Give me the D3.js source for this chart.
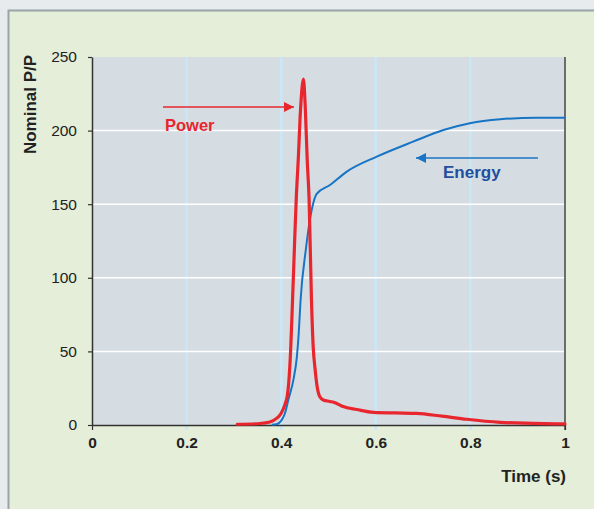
<!DOCTYPE html>
<html>
<head>
<meta charset="utf-8">
<script src="https://cdn.jsdelivr.net/npm/d3@7"></script>
<style>
  html, body { margin: 0; padding: 0; background: #e7ebee; }
  svg { display: block; font-family: "Liberation Sans", Arial, sans-serif; }
</style>
</head>
<body>
<script>
// values
var powerTime  = [0.307, 0.355, 0.376, 0.39, 0.4, 0.408, 0.413, 0.416, 0.42, 0.424, 0.429, 0.432, 0.436, 0.441, 0.447,
                  0.451, 0.455, 0.459, 0.464, 0.468, 0.471, 0.476, 0.482, 0.489, 0.503, 0.515, 0.531, 0.56, 0.595,
                  0.64, 0.686, 0.74, 0.792, 0.863, 0.933, 1.0];
var powerValue = [0.5, 1, 2, 4.5, 8, 14, 20, 29, 51, 85, 130, 155, 180, 215, 235,
                  215, 180, 153, 85, 51, 40, 26, 19, 17, 16, 15, 12.5, 10.5, 8.6,
                  8.2, 7.9, 6, 3.9, 1.8, 1.1, 0.7];

var energyTime  = [0.38, 0.39, 0.401, 0.408, 0.415, 0.426, 0.433, 0.437, 0.441, 0.452, 0.461, 0.468, 0.475, 0.503,
                   0.538, 0.602, 0.679, 0.743, 0.799, 0.863, 0.94, 1.0];
var energyValue = [0.2, 0.5, 3.4, 8, 17, 31, 46, 62, 85, 119, 140, 151, 157, 163,
                   172, 182.3, 192.5, 200.4, 205, 207.7, 208.8, 208.8];

var xTicks = [0, 0.2, 0.4, 0.6, 0.8, 1];
var xTickLabels = ["0", "0.2", "0.4", "0.6", "0.8", "1"];
var yTicks = [0, 50, 100, 150, 200, 250];

var power = powerTime.map(function(t, i) { return {t: t, v: powerValue[i]}; });
var energy = energyTime.map(function(t, i) { return {t: t, v: energyValue[i]}; });

var svg = d3.select("body").append("svg").attr("width", 594).attr("height", 509);

// outer panel
svg.append("rect")
    .attr("x", 8.5).attr("y", 10.5).attr("width", 600).attr("height", 520)
    .attr("fill", "#e4eed8").attr("stroke", "#99a4a8").attr("stroke-width", 2);

var x = d3.scaleLinear().domain([0, 1]).range([92, 565]);
var y = d3.scaleLinear().domain([0, 250]).range([425, 57]);

// plot background
svg.append("rect")
    .attr("x", x(0)).attr("y", y(250))
    .attr("width", x(1) - x(0)).attr("height", y(0) - y(250))
    .attr("fill", "#d5dde3");

// vertical grid (light blue)
svg.append("g").selectAll("line")
    .data(xTicks.filter(function(d) { return d > 0 && d < 1; }))
    .enter().append("line")
    .attr("x1", function(d) { return x(d); }).attr("x2", function(d) { return x(d); })
    .attr("y1", y(250)).attr("y2", y(0) + 5)
    .attr("stroke", "#c8e8fa").attr("stroke-width", 2.5);

// horizontal grid (white)
svg.append("g").selectAll("line")
    .data(yTicks.filter(function(d) { return d > 0 && d < 250; }))
    .enter().append("line")
    .attr("x1", x(0)).attr("x2", x(1))
    .attr("y1", function(d) { return y(d); }).attr("y2", function(d) { return y(d); })
    .attr("stroke", "#ffffff").attr("stroke-width", 1.5);

// right border of plot
svg.append("line")
    .attr("x1", x(1)).attr("x2", x(1)).attr("y1", y(250)).attr("y2", y(0) + 5)
    .attr("stroke", "#444").attr("stroke-width", 1.5);

// y axis
var yAxis = svg.append("g")
    .attr("transform", "translate(" + x(0) + ",0)")
    .call(d3.axisLeft(y).tickValues(yTicks).tickSize(4).tickSizeOuter(0).tickPadding(11));
yAxis.select(".domain").attr("stroke", "#333").attr("stroke-width", 1.5);
yAxis.selectAll(".tick line").attr("stroke", "#333").attr("stroke-width", 1.2);
yAxis.selectAll("text").attr("fill", "#222").style("font-size", "15.5px")
    .style("font-family", "Liberation Sans, Arial, sans-serif");

// x axis
var xAxis = svg.append("g")
    .attr("transform", "translate(0," + y(0) + ")")
    .call(d3.axisBottom(x).tickValues(xTicks)
      .tickFormat(function(d, i) { return xTickLabels[i]; })
      .tickSize(5).tickSizeOuter(0).tickPadding(7));
xAxis.select(".domain").attr("stroke", "#333").attr("stroke-width", 1.5);
xAxis.selectAll(".tick line").attr("stroke", function(d) { return (d === 0 || d === 1) ? "#333" : "none"; })
    .attr("stroke-width", 1.2);
xAxis.selectAll("text").attr("fill", "#222").style("font-size", "15.5px").style("font-weight", "bold")
    .style("font-family", "Liberation Sans, Arial, sans-serif");

// axis titles
svg.append("text")
    .attr("transform", "translate(36,104.5) rotate(-90)")
    .attr("text-anchor", "middle")
    .attr("fill", "#222").style("font-size", "17px").style("font-weight", "bold")
    .text("Nominal P/P");

svg.append("text")
    .attr("x", 566).attr("y", 482)
    .attr("text-anchor", "end")
    .attr("fill", "#222").style("font-size", "17px").style("font-weight", "bold")
    .text("Time (s)");

// lines
var line = d3.line()
    .x(function(d) { return x(d.t); })
    .y(function(d) { return y(d.v); })
    .curve(d3.curveMonotoneX);

svg.append("path")
    .datum(energy)
    .attr("fill", "none").attr("stroke", "#1874c4").attr("stroke-width", 2)
    .attr("stroke-linejoin", "round")
    .attr("d", line);

svg.append("path")
    .datum(power)
    .attr("fill", "none").attr("stroke", "#e8262e").attr("stroke-width", 3.2)
    .attr("stroke-linejoin", "round").attr("stroke-linecap", "round")
    .attr("d", line);

// annotation arrows
var defs = svg.append("defs");
function marker(id, color) {
  defs.append("marker")
      .attr("id", id).attr("viewBox", "0 0 10 10")
      .attr("refX", 10).attr("refY", 5)
      .attr("markerWidth", 10).attr("markerHeight", 10)
      .attr("markerUnits", "userSpaceOnUse")
      .attr("orient", "auto")
    .append("path").attr("d", "M0,0L10,5L0,10Z").attr("fill", color);
}
marker("arrRed", "#e8262e");
marker("arrBlue", "#1874c4");

svg.append("line")
    .attr("x1", 163).attr("y1", 107).attr("x2", 294).attr("y2", 107)
    .attr("stroke", "#e8262e").attr("stroke-width", 1.5)
    .attr("marker-end", "url(#arrRed)");
svg.append("text")
    .attr("x", 165).attr("y", 131)
    .attr("fill", "#e8262e").style("font-size", "16.5px").style("font-weight", "bold")
    .text("Power");

svg.append("line")
    .attr("x1", 538).attr("y1", 158).attr("x2", 416).attr("y2", 158)
    .attr("stroke", "#1874c4").attr("stroke-width", 1.5)
    .attr("marker-end", "url(#arrBlue)");
svg.append("text")
    .attr("x", 443).attr("y", 178)
    .attr("fill", "#1f4f9f").style("font-size", "17px").style("font-weight", "bold")
    .text("Energy");
</script>
</body>
</html>
